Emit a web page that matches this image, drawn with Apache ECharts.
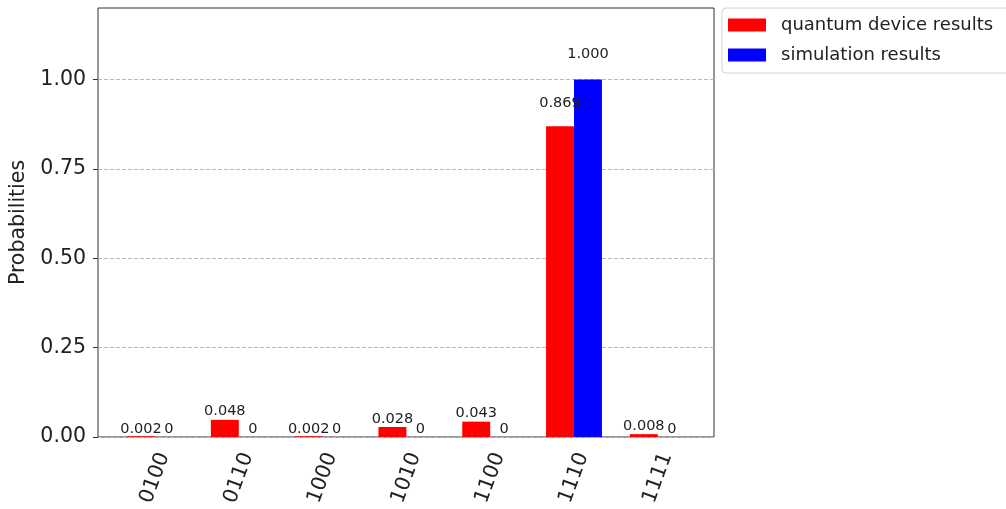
<!DOCTYPE html>
<html>
<head>
<meta charset="utf-8">
<title>Quantum results histogram</title>
<script src="https://cdn.jsdelivr.net/npm/echarts@6/dist/echarts.min.js"></script>
<style>
  html, body { margin: 0; padding: 0; background: #ffffff; }
  #chart { width: 1006px; height: 509px; }
</style>
</head>
<body>
<div id="chart"></div>
<script>
// Measured bitstrings and their probabilities
const categories = ['0100', '0110', '1000', '1010', '1100', '1110', '1111'];
const deviceValues = [0.002, 0.048, 0.002, 0.028, 0.043, 0.869, 0.008];
const simulationValues = [0, 0, 0, 0, 0, 1.000, 0];
const yTicks = [0, 0.25, 0.5, 0.75, 1.0];
const yMax = 1.2;

const FONT = 'DejaVu Sans';
const TEXT = '#222222';

// Plot frame (y axis + border) and the bar area inside it
const frame = { left: 98, top: 8, width: 616, height: 429 };
const bars = { left: 113.1, top: 8, width: 586.6, height: 429 };

// Value labels sit at 1.05 x the bar height, like the usual histogram helper
const pxPerUnit = frame.height / yMax;
function withLabels(values) {
  return values.map(v => ({
    value: v,
    label: { distance: 0.05 * v * pxPerUnit }
  }));
}
function labelText(p) {
  return p.value >= 1e-3 ? p.value.toFixed(3) : '0';
}

const chart = echarts.init(document.getElementById('chart'), null, { renderer: 'canvas' });

chart.setOption({
  animation: false,
  backgroundColor: '#ffffff',
  textStyle: { fontFamily: FONT },
  grid: [
    { left: frame.left, top: frame.top, width: frame.width, height: frame.height,
      show: true, borderColor: '#333333', borderWidth: 1, backgroundColor: 'transparent' },
    { left: bars.left, top: bars.top, width: bars.width, height: bars.height }
  ],
  legend: {
    orient: 'vertical',
    left: 722,
    top: 8,
    itemWidth: 38,
    itemHeight: 13,
    itemGap: 10,
    padding: [7, 20, 8, 6],
    borderColor: '#d4d4d4',
    borderWidth: 1,
    borderRadius: 4,
    icon: 'rect',
    textStyle: { fontFamily: FONT, fontSize: 18, lineHeight: 20, color: TEXT, padding: [0, 0, 0, 10] },
    data: ['quantum device results', 'simulation results']
  },
  xAxis: [
    { gridIndex: 0, type: 'value', min: 0, max: 1, show: false },
    {
      gridIndex: 1,
      type: 'category',
      data: categories,
      axisLine: { show: false },
      axisTick: { alignWithLabel: true, length: 5, lineStyle: { color: '#333333' } },
      axisLabel: {
        rotate: 70,
        align: 'center',
        verticalAlign: 'middle',
        margin: 41,
        fontFamily: FONT,
        fontSize: 20.5,
        color: TEXT
      }
    }
  ],
  yAxis: [
    {
      gridIndex: 0,
      type: 'value',
      min: 0,
      max: yMax,
      interval: 0.25,
      name: 'Probabilities',
      nameLocation: 'middle',
      nameGap: 63,
      nameTextStyle: { fontFamily: FONT, fontSize: 20.5, color: TEXT },
      axisLine: { show: false },
      axisTick: { show: true, length: 5, customValues: yTicks, lineStyle: { color: '#333333' } },
      axisLabel: {
        customValues: yTicks,
        margin: 12,
        fontFamily: FONT,
        fontSize: 20.5,
        color: TEXT,
        formatter: v => v.toFixed(2)
      },
      splitLine: { show: true, lineStyle: { color: '#b8b8b8', width: 1, type: [4, 2] } }
    },
    { gridIndex: 1, type: 'value', min: 0, max: yMax, show: false }
  ],
  series: [
    {
      name: 'quantum device results',
      type: 'bar',
      xAxisIndex: 1,
      yAxisIndex: 1,
      barGap: '0%',
      barCategoryGap: '33.33%',
      itemStyle: { color: '#ff0000' },
      label: {
        show: true, position: 'top', formatter: labelText,
        fontFamily: FONT, fontSize: 14.5, color: TEXT
      },
      z: 3,
      data: withLabels(deviceValues)
    },
    {
      name: 'simulation results',
      type: 'bar',
      xAxisIndex: 1,
      yAxisIndex: 1,
      barGap: '0%',
      barCategoryGap: '33.33%',
      itemStyle: { color: '#0000ff' },
      label: {
        show: true, position: 'top', formatter: labelText,
        fontFamily: FONT, fontSize: 14.5, color: TEXT
      },
      z: 2,
      data: withLabels(simulationValues)
    }
  ]
});
</script>
</body>
</html>
